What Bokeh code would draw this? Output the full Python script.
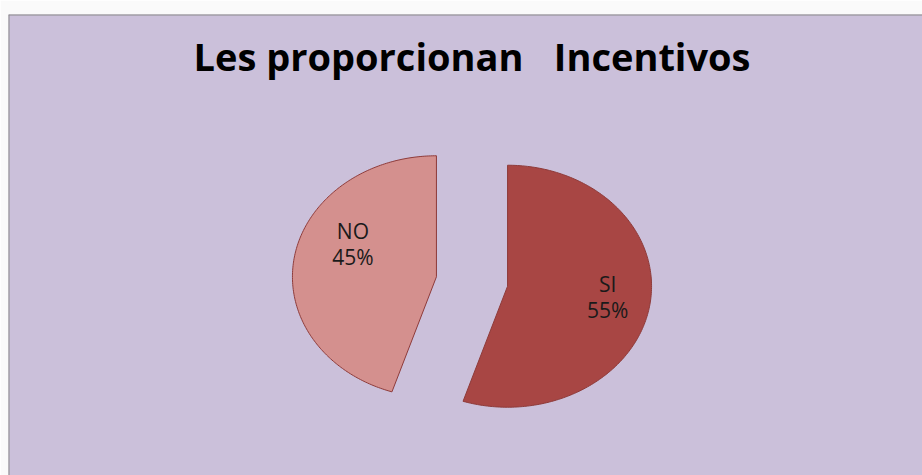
import numpy as np
from bokeh.plotting import figure
from bokeh.models import Range1d, ColumnDataSource, Span
from bokeh.core.properties import value
from bokeh.embed import file_html
from bokeh.resources import INLINE

# ---- data ----
categories = ["SI", "NO"]
values = [55, 45]
slice_colors = ["#A84644", "#D4908E"]
title_parts = ["Les proporcionan", "Incentivos"]   # title: "Les proporcionan   Incentivos"

# ---- layout ----
W, H = 914, 461          # plot frame in px (1 data unit = 1 px)
cx, cy = 463.5, 194.0    # pie centre (data coords)
a, b = 144.0, 121.0      # ellipse semi-axes
explode = 0.25
label_r = [0.70, 0.64]
label_shift_deg = [-2.0, 16.0]

p = figure(width=W + 8, height=H + 14, x_range=Range1d(0, W), y_range=Range1d(0, H),
           output_backend="svg", toolbar_location=None,
           min_border_left=8, min_border_right=0, min_border_bottom=0, min_border_top=14)
p.axis.visible = False
p.grid.visible = False
p.background_fill_color = "#CBC0DA"
p.border_fill_color = "#FAFAFA"
p.outline_line_color = None

p.add_layout(Span(location=0, dimension="height", line_color="#8A8A8A", line_width=2))
p.add_layout(Span(location=H, dimension="width", line_color="#8A8A8A", line_width=2))

total = float(sum(values))
fracs = np.array(values, dtype=float) / total
ends = np.cumsum(fracs) * 2 * np.pi
starts = ends - fracs * 2 * np.pi

xs, ys, lx, ly, ltxt = [], [], [], [], []
for i, (s, e) in enumerate(zip(starts, ends)):
    m = (s + e) / 2
    ox = cx + explode * a * np.sin(m)
    oy = cy + explode * b * np.cos(m)
    t = np.linspace(s, e, 200)
    xs.append(np.concatenate([[ox], ox + a * np.sin(t), [ox]]).tolist())
    ys.append(np.concatenate([[oy], oy + b * np.cos(t), [oy]]).tolist())
    lm = m + np.deg2rad(label_shift_deg[i])
    lx.append(ox + label_r[i] * a * np.sin(lm))
    ly.append(oy + label_r[i] * b * np.cos(lm))
    ltxt.append(f"{categories[i]}\n{int(round(fracs[i] * 100))}%")

p.patches(xs, ys, fill_color=slice_colors, line_color="#8E3B3A", line_width=1)

src = ColumnDataSource(dict(x=lx, y=ly, text=ltxt))
p.text("x", "y", text="text", source=src, text_align="center", text_baseline="middle",
       text_font=value("Open Sans"), text_font_size="21px", text_color="#1A1A1A",
       text_line_height=0.93)

p.text(x=[185], y=[420], text=[title_parts[0]], text_align="left",
       text_baseline="alphabetic", text_font=value("Open Sans"), text_font_style="bold",
       text_font_size="38px", text_color="#000000")
p.text(x=[742], y=[420], text=[title_parts[1]], text_align="right",
       text_baseline="alphabetic", text_font=value("Open Sans"), text_font_style="bold",
       text_font_size="38px", text_color="#000000")

open("out.html", "w").write(file_html(p, INLINE))
